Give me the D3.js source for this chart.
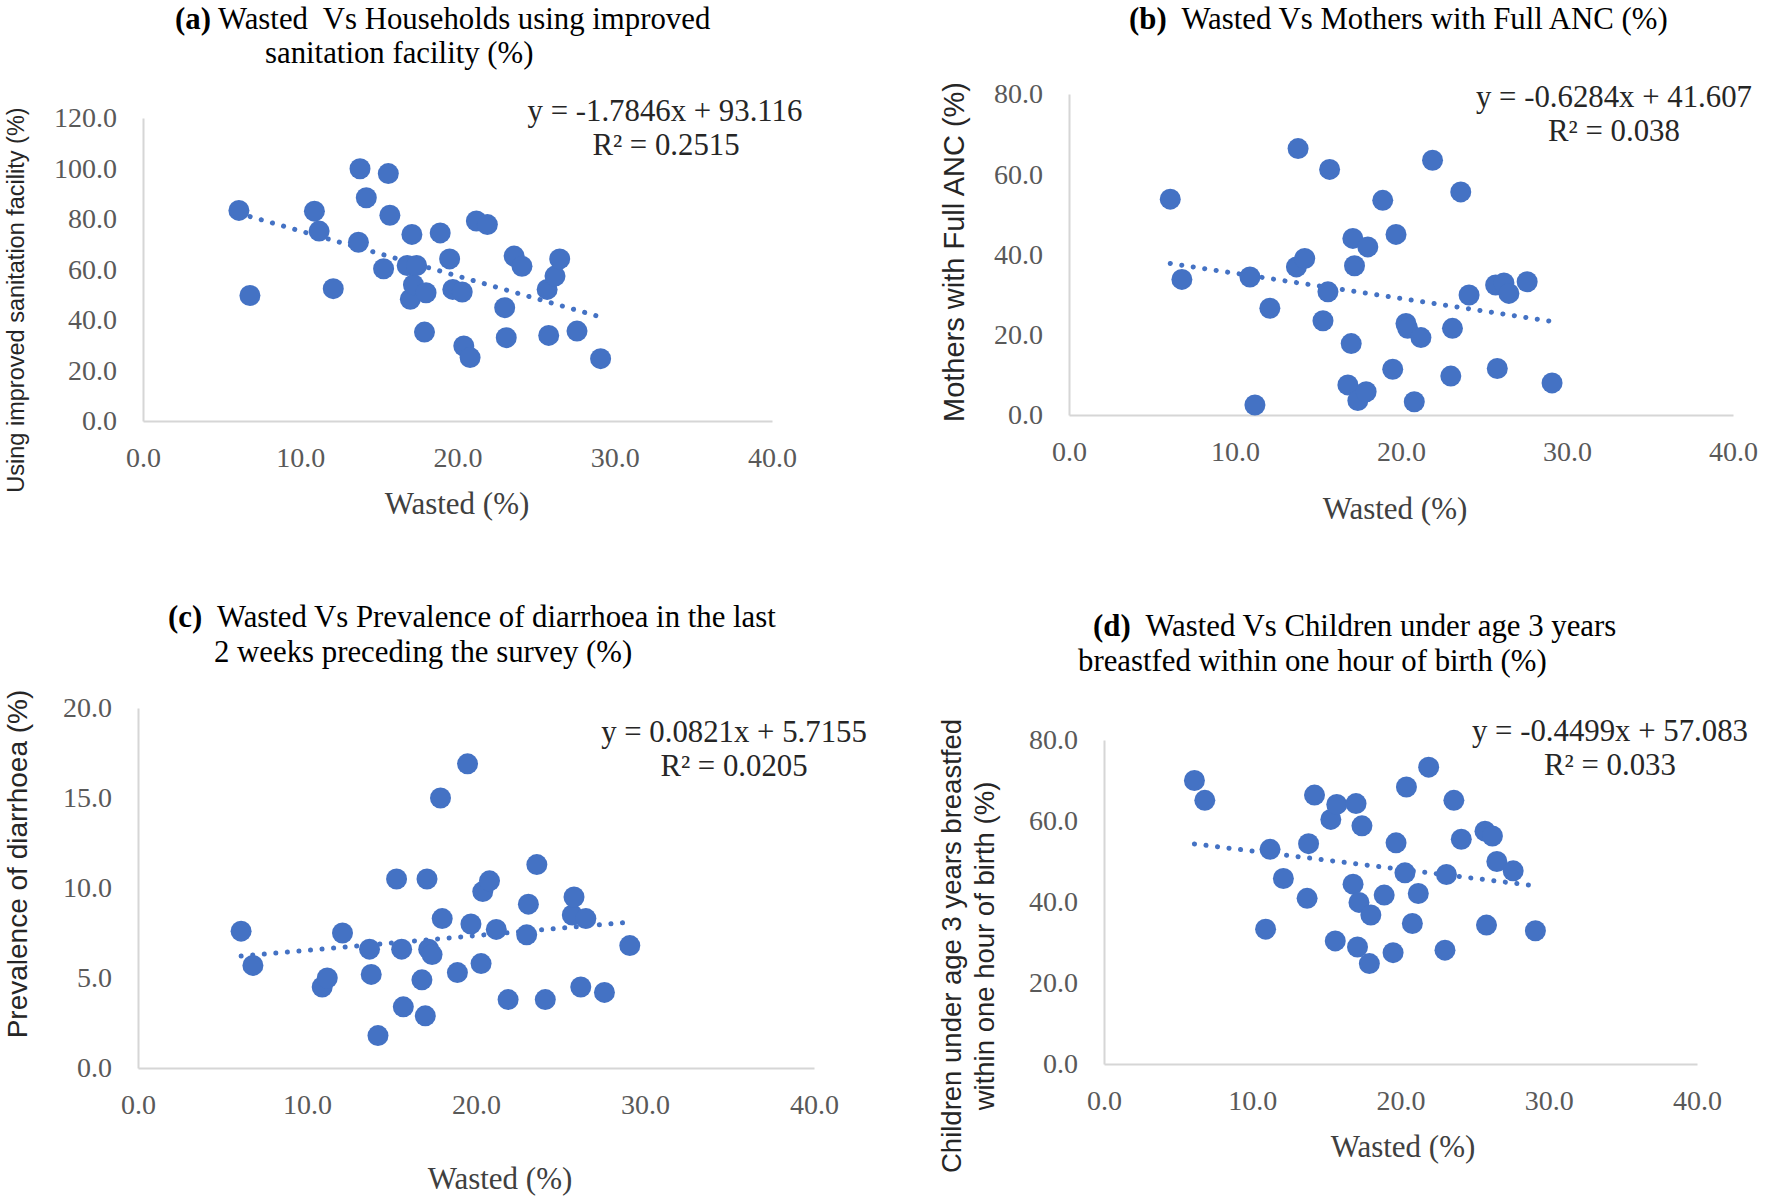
<!DOCTYPE html>
<html>
<head>
<meta charset="utf-8">
<script src="https://cdn.jsdelivr.net/npm/d3@7"></script>
<style>
  html, body { margin: 0; padding: 0; background: #ffffff; }
  svg { display: block; }
</style>
</head>
<body>
<svg id="chart" width="1770" height="1200"></svg>
<script>
// ---------------- DATA ----------------
const wasted = [6.1, 6.8, 10.9, 11.2, 12.1, 13.7, 13.8, 14.2, 15.3, 15.6, 15.7, 16.8,
  17.0, 17.1, 17.2, 17.4, 17.9, 18.0, 18.9, 19.5, 19.7, 20.3, 20.4, 20.8,
  21.2, 21.9, 23.0, 23.1, 23.6, 24.1, 25.7, 25.8, 26.2, 26.5, 27.6, 29.1];

const sanitation = [83.4, 49.7, 83.1, 75.2, 52.4, 70.8, 99.9, 88.4, 60.3, 98.0, 81.5, 61.6,
  48.2, 73.9, 54.0, 61.6, 35.2, 50.8, 74.5, 64.2, 52.1, 51.1, 29.7, 25.1,
  79.2, 77.8, 44.9, 33.0, 65.3, 61.3, 52.1, 33.9, 57.4, 64.2, 35.6, 24.7];

const fullANC = [53.8, 33.8, 34.4, 2.5, 26.6, 36.9, 66.4, 39.0, 23.5, 30.7, 61.2, 7.5,
  17.8, 44.0, 37.2, 3.6, 5.8, 41.9, 53.5, 11.4, 45.0, 22.8, 21.6, 3.3,
  19.3, 63.5, 9.7, 21.6, 55.6, 29.9, 32.4, 11.6, 32.9, 30.3, 33.2, 8.0];

const diarrhoea = [7.6, 5.7, 4.5, 5.0, 7.5, 6.6, 5.2, 1.8, 10.5, 6.6, 3.4, 4.9,
  2.9, 10.5, 6.6, 6.3, 15.0, 8.3, 5.3, 16.9, 8.0, 5.8, 9.8, 10.4,
  7.7, 3.8, 7.4, 9.1, 11.3, 3.8, 8.5, 9.5, 4.5, 8.3, 4.2, 6.8];

const breastfed = [70.0, 65.1, 33.3, 53.0, 45.8, 40.9, 54.4, 66.4, 60.4, 30.4, 64.1, 44.4,
  64.3, 28.9, 39.9, 58.8, 24.8, 36.8, 41.7, 27.5, 54.6, 47.2, 68.4, 34.7,
  42.1, 73.3, 28.1, 46.8, 65.1, 55.5, 57.5, 34.3, 56.3, 50.0, 47.7, 32.9];

const trendSlope = [-1.7846, -0.6284, 0.0821, -0.4499];
const trendIntercept = [93.116, 41.607, 5.7155, 57.083];
const trendEquation = ["y = -1.7846x + 93.116", "y = -0.6284x + 41.607", "y = 0.0821x + 5.7155", "y = -0.4499x + 57.083"];
const trendR2 = ["R² = 0.2515", "R² = 0.038", "R² = 0.0205", "R² = 0.033"];

const xTicks = [0, 10, 20, 30, 40];
const yTicksA = [0, 20, 40, 60, 80, 100, 120];
const yTicksB = [0, 20, 40, 60, 80];
const yTicksC = [0, 5, 10, 15, 20];
const yTicksD = [0, 20, 40, 60, 80];

const panelLetters = ["(a)", "(b)", "(c)", "(d)"];
const titleLines = [
  [" Wasted  Vs Households using improved", "sanitation facility (%)"],
  ["  Wasted Vs Mothers with Full ANC (%)"],
  ["  Wasted Vs Prevalence of diarrhoea in the last", "2 weeks preceding the survey (%)"],
  ["  Wasted Vs Children under age 3 years", "breastfed within one hour of birth (%)"]
];
const yTitles = [
  ["Using improved sanitation facility (%)"],
  ["Mothers with Full ANC (%)"],
  ["Prevalence of diarrhoea (%)"],
  ["Children under age 3 years breastfed", "within one hour of birth (%)"]
];
const xTitle = "Wasted (%)";

// ---------------- LAYOUT ----------------
const BLUE = "#4472C4";
const SERIF = "'Liberation Serif', 'Times New Roman', serif";
const SANS = "'Liberation Sans', Arial, sans-serif";
const TITLE_SIZE = 30.8;

const panels = [
  { ys: sanitation, yTicks: yTicksA,
    xr: [143, 772], yr: [421, 118],
    title: [{x: 175, y: 29}, {x: 265, y: 63}],
    eq: {x: 665, y: 121}, r2: {x: 666, y: 155},
    yt: {x: 24, y: 300, size: 23.5}, xt: {x: 457, y: 514} },
  { ys: fullANC, yTicks: yTicksB,
    xr: [1069, 1733], yr: [415, 94],
    title: [{x: 1129, y: 29}],
    eq: {x: 1614, y: 107}, r2: {x: 1614, y: 141},
    yt: {x: 964, y: 252, size: 29}, xt: {x: 1395, y: 519} },
  { ys: diarrhoea, yTicks: yTicksC,
    xr: [138, 814], yr: [1068, 708],
    title: [{x: 168, y: 627}, {x: 214, y: 662}],
    eq: {x: 734, y: 742}, r2: {x: 734, y: 776},
    yt: {x: 27, y: 864, size: 28}, xt: {x: 500, y: 1189} },
  { ys: breastfed, yTicks: yTicksD,
    xr: [1104, 1697], yr: [1064, 740],
    title: [{x: 1093, y: 636}, {x: 1078, y: 671}],
    eq: {x: 1610, y: 741}, r2: {x: 1610, y: 775},
    yt: {x: 961, y: 946, size: 27.5, gap: 33}, xt: {x: 1403, y: 1157} }
];

const svg = d3.select("#chart");

panels.forEach((p, i) => {
  const g = svg.append("g");
  const x = d3.scaleLinear().domain([0, 40]).range(p.xr);
  const yMax = p.yTicks[p.yTicks.length - 1];
  const y = d3.scaleLinear().domain([0, yMax]).range(p.yr);

  // axes
  const xAxis = d3.axisBottom(x).tickValues(xTicks).tickSizeInner(0).tickSizeOuter(0)
    .tickPadding(26).tickFormat(d3.format(".1f"));
  const yAxis = d3.axisLeft(y).tickValues(p.yTicks).tickSizeInner(0).tickSizeOuter(0)
    .tickPadding(26).tickFormat(d3.format(".1f"));

  const gx = g.append("g").attr("transform", `translate(0,${p.yr[0]})`).call(xAxis);
  const gy = g.append("g").attr("transform", `translate(${p.xr[0]},0)`).call(yAxis);
  [gx, gy].forEach(a => {
    a.select(".domain").attr("stroke", "#d6d6d6").attr("stroke-width", 2);
    a.selectAll(".tick text")
      .attr("font-family", SERIF).attr("font-size", 28).attr("fill", "#595959");
  });

  // trendline
  const xs = d3.extent(wasted);
  g.append("line")
    .attr("x1", x(xs[0])).attr("y1", y(trendSlope[i] * xs[0] + trendIntercept[i]))
    .attr("x2", x(xs[1])).attr("y2", y(trendSlope[i] * xs[1] + trendIntercept[i]))
    .attr("stroke", BLUE).attr("stroke-width", 5)
    .attr("stroke-linecap", "round").attr("stroke-dasharray", "0.1 11.5");

  // points
  g.selectAll("circle.pt").data(wasted.map((w, k) => [w, p.ys[k]])).enter()
    .append("circle").attr("class", "pt")
    .attr("cx", d => x(d[0])).attr("cy", d => y(d[1])).attr("r", 10.5)
    .attr("fill", BLUE);

  // title
  const t1 = g.append("text").attr("x", p.title[0].x).attr("y", p.title[0].y)
    .attr("font-family", SERIF).attr("font-size", TITLE_SIZE).attr("fill", "#000");
  t1.append("tspan").attr("font-weight", "bold").text(panelLetters[i]);
  t1.append("tspan").attr("xml:space", "preserve").style("white-space", "pre").text(titleLines[i][0]);
  if (titleLines[i][1]) {
    g.append("text").attr("x", p.title[1].x).attr("y", p.title[1].y)
      .attr("font-family", SERIF).attr("font-size", TITLE_SIZE).attr("fill", "#000")
      .text(titleLines[i][1]);
  }

  // equation
  g.append("text").attr("x", p.eq.x).attr("y", p.eq.y).attr("text-anchor", "middle")
    .attr("font-family", SERIF).attr("font-size", TITLE_SIZE).attr("fill", "#262626")
    .text(trendEquation[i]);
  g.append("text").attr("x", p.r2.x).attr("y", p.r2.y).attr("text-anchor", "middle")
    .attr("font-family", SERIF).attr("font-size", TITLE_SIZE).attr("fill", "#262626")
    .text(trendR2[i]);

  // axis titles
  g.append("text").attr("x", p.xt.x).attr("y", p.xt.y).attr("text-anchor", "middle")
    .attr("font-family", SERIF).attr("font-size", 31).attr("fill", "#404040")
    .text(xTitle);
  yTitles[i].forEach((line, li) => {
    const bx = p.yt.x + li * (p.yt.gap || 0);
    g.append("text")
      .attr("transform", `translate(${bx},${p.yt.y}) rotate(-90)`)
      .attr("text-anchor", "middle")
      .attr("font-family", SANS).attr("font-size", p.yt.size).attr("fill", "#262626")
      .text(line);
  });
});
</script>
</body>
</html>
